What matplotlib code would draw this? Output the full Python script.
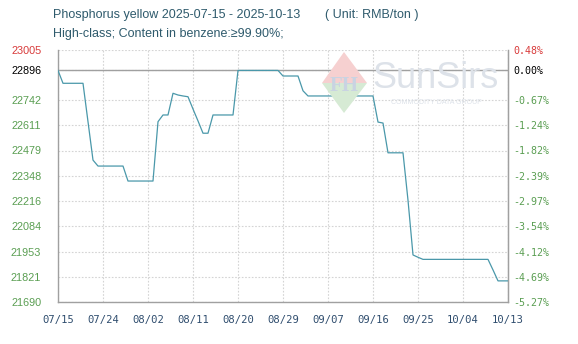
import matplotlib
matplotlib.use("Agg")
import matplotlib.pyplot as plt
from matplotlib.patches import Polygon
import pandas as pd

# daily prices, RMB/ton, 2025-07-15 .. 2025-10-13
start = "2025-07-15"
prices = (
    [22896] + [22829] * 5 + [22629, 22429] + [22398] * 6 + [22320] * 6
    + [22629, 22664, 22664, 22777, 22768, 22763, 22759, 22695, 22633, 22569, 22569]
    + [22664] * 5 + [22896] * 9 + [22867] * 4 + [22790] + [22763] * 14
    + [22627, 22622] + [22467] * 4 + [22220, 21935, 21923] + [21912] * 14
    + [21857] + [21800] * 3
)
base = 22896
ytick_vals = [21690, 21821.5, 21953, 22084.5, 22216, 22347.5, 22479, 22610.5, 22742, 22896, 23005]
ytick_labels = ["21690", "21821", "21953", "22084", "22216", "22348", "22479", "22611", "22742", "22896", "23005"]
pct_labels = ["-5.27%", "-4.69%", "-4.12%", "-3.54%", "-2.97%", "-2.39%", "-1.82%", "-1.24%", "-0.67%", "0.00%", "0.48%"]
xtick_labels = ["07/15", "07/24", "08/02", "08/11", "08/20", "08/29", "09/07", "09/16", "09/25", "10/04", "10/13"]

dates = pd.date_range(start, periods=len(prices), freq="D")
xticks = pd.date_range(start, periods=len(xtick_labels), freq="9D")

green = "#5a9e52"
red = "#d83a3a"
grid_c = "#d4d4d4"

fig = plt.figure(figsize=(5.78, 3.44), dpi=100)
W, H = 578, 344
ax = fig.add_axes([58 / W, 1 - 302 / H, 450 / W, 252.5 / H])

# watermark
wm = dict(transform=fig.transFigure, zorder=0)
fig.patches.append(Polygon([[322 / W, 1 - 83 / H], [344 / W, 1 - 52 / H], [367 / W, 1 - 83 / H]],
                           closed=True, facecolor="#f6d0d0", edgecolor="none", **wm))
fig.patches.append(Polygon([[322 / W, 1 - 83 / H], [344 / W, 1 - 113 / H], [367 / W, 1 - 83 / H]],
                           closed=True, facecolor="#d6ead4", edgecolor="none", **wm))
fig.text(344 / W, 1 - 86 / H, "FH", fontsize=15, color="#c9d3e2", ha="center", va="center",
         fontweight="bold", family="Liberation Serif", zorder=0)
fig.text(436 / W, 1 - 78 / H, "SunSirs", fontsize=26, color="#dde2e9", ha="center", va="center",
         family="Liberation Sans", zorder=0)
fig.text(436 / W, 1 - 102 / H, "COMMODITY DATA GROUP", fontsize=5, color="#dde2e9", ha="center",
         va="center", family="Liberation Sans", zorder=0)
ax.patch.set_alpha(0)

ax.plot(dates, prices, color="#4a98aa", linewidth=0.9, zorder=3)
ax.axhline(base, color="#a0a0a0", linewidth=1.0, zorder=2)

ax.set_xlim(dates[0], dates[-1])
ax.set_ylim(ytick_vals[0], ytick_vals[-1])

ax.set_xticks(xticks)
ax.set_xticklabels(xtick_labels, family="DejaVu Sans Mono", fontsize=7.6, color="#2f4d6e")
ax.set_yticks(ytick_vals)
ax.set_yticklabels(ytick_labels, family="Liberation Sans", fontsize=7.8)
for lab, v in zip(ax.get_yticklabels(), ytick_labels):
    lab.set_color(red if v == "23005" else ("black" if v == "22896" else green))
ax.tick_params(axis="x", length=0, pad=9)
ax.tick_params(axis="y", length=0, pad=12)

ax.grid(True, color=grid_c, linestyle=(0, (1.5, 1.5)), linewidth=0.8, zorder=1)
ax.spines["top"].set_visible(False)
for side in ["left", "bottom", "right"]:
    ax.spines[side].set_color("#a0a0a0")
    ax.spines[side].set_linewidth(1.0)

ax2 = ax.twinx()
ax2.set_ylim(ax.get_ylim())
ax2.set_yticks(ytick_vals)
ax2.set_yticklabels(pct_labels, family="DejaVu Sans Mono", fontsize=7.2)
for lab, v in zip(ax2.get_yticklabels(), pct_labels):
    lab.set_color(red if v == "0.48%" else ("black" if v == "0.00%" else green))
ax2.tick_params(axis="y", length=0, pad=4)
for side in ["top", "left", "bottom"]:
    ax2.spines[side].set_visible(False)
ax2.spines["right"].set_color("#a0a0a0")

title_c = "#2e5a6c"
fig.text(53 / W, 1 - 15 / H, "Phosphorus yellow 2025-07-15 - 2025-10-13", fontsize=9,
         color=title_c, family="Liberation Sans", va="center")
fig.text(325 / W, 1 - 15 / H, "( Unit: RMB/ton )", fontsize=9,
         color=title_c, family="Liberation Sans", va="center")
fig.text(53 / W, 1 - 34 / H, "High-class; Content in benzene:\u226599.90%;", fontsize=9,
         color=title_c, family="Liberation Sans", va="center")

fig.savefig("out.png", dpi=100, facecolor="white")
